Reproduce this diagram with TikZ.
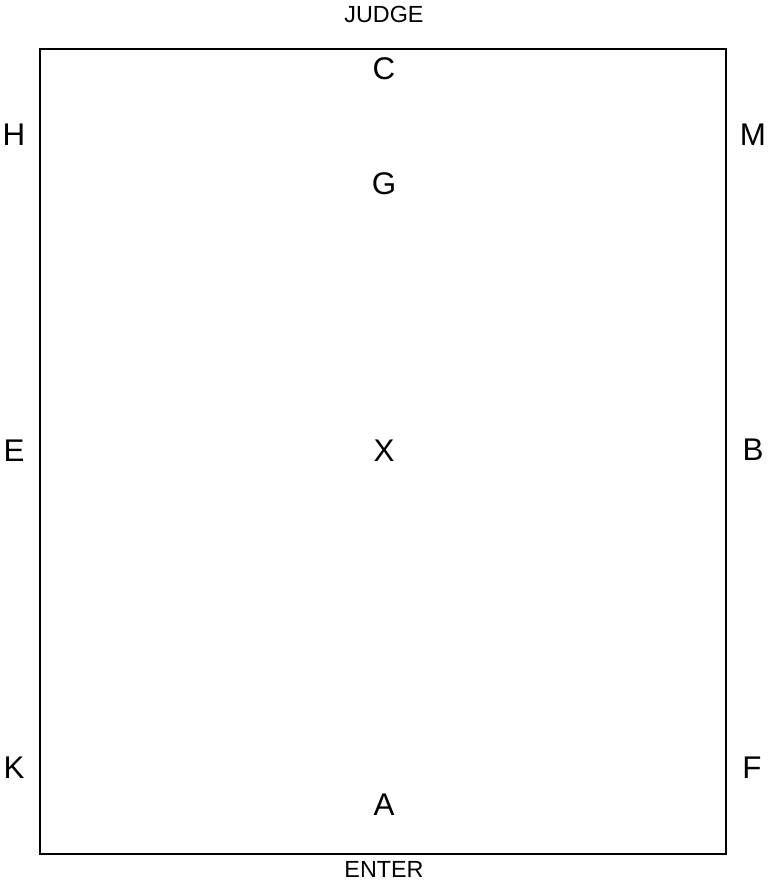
\documentclass[tikz,border=0pt]{standalone}
\usepackage{fontspec}
\setmainfont{Liberation Sans}
\usetikzlibrary{positioning}

\begin{document}
\begin{tikzpicture}[
    x=0.75pt, y=-0.75pt,
    arena/.style  = {draw, line width=1.5pt},
    letter/.style = {inner sep=0pt, font=\fontsize{23.5}{26}\selectfont},
    side/.style   = {inner sep=0pt, font=\fontsize{17.5}{20}\selectfont}
]
\useasboundingbox (0,0) rectangle (768,884);

% ========= arena =========
\draw[arena] (40,49) rectangle (726,854);

% ========= end labels =========
\node[side] (judge) at (384,14.5) {JUDGE};
\node[side] (enter) at (384,869.5) {ENTER};

% ========= centre line =========
\node[letter] (C) at (384,68.5) {C};
\node[letter] (G) at (384,184)  {G};
\node[letter] (X) at (384,451)  {X};
\node[letter] (A) at (384,804.5) {A};

% ========= long sides =========
\node[letter] (H) at (14,134.5)  {H};
\node[letter] (E) at (14,451)    {E};
\node[letter] (K) at (14,768)    {K};
\node[letter] (M) at (753,134.5) {M};
\node[letter] (B) at (753,450)   {B};
\node[letter] (F) at (752,768)   {F};

\end{tikzpicture}
\end{document}
